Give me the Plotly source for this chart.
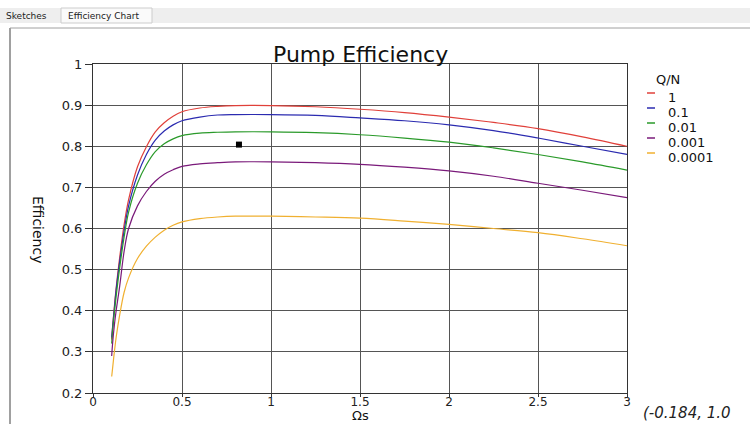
import plotly.graph_objects as go

# ---- data ----
omega_s = [0.105, 0.11, 0.12, 0.13, 0.15, 0.175, 0.2, 0.25, 0.3, 0.35, 0.4, 0.45, 0.5,
           0.6, 0.7, 0.8, 1.0, 1.25, 1.5, 1.75, 2.0, 2.25, 2.5, 2.75, 3.0]
series_names = ["1", "0.1", "0.01", "0.001", "0.0001"]
eff_1 = [0.33, 0.36, 0.41, 0.455, 0.53, 0.61, 0.67, 0.75, 0.799, 0.835, 0.857, 0.873, 0.884,
         0.893, 0.897, 0.899, 0.899, 0.896, 0.890, 0.882, 0.871, 0.858, 0.843, 0.823, 0.800]
eff_01 = [0.335, 0.36, 0.405, 0.45, 0.52, 0.595, 0.655, 0.73, 0.78, 0.815, 0.837, 0.852, 0.862,
          0.871, 0.876, 0.877, 0.877, 0.875, 0.869, 0.862, 0.852, 0.838, 0.820, 0.800, 0.780]
eff_001 = [0.32, 0.35, 0.395, 0.435, 0.505, 0.58, 0.64, 0.71, 0.755, 0.787, 0.806, 0.818, 0.826,
           0.832, 0.834, 0.835, 0.835, 0.833, 0.828, 0.820, 0.810, 0.796, 0.780, 0.762, 0.742]
eff_0001 = [0.29, 0.32, 0.365, 0.40, 0.46, 0.545, 0.60, 0.655, 0.69, 0.715, 0.732, 0.743, 0.751,
            0.757, 0.760, 0.762, 0.762, 0.760, 0.756, 0.749, 0.740, 0.727, 0.710, 0.693, 0.675]
eff_00001 = [0.24, 0.26, 0.30, 0.335, 0.39, 0.445, 0.48, 0.527, 0.557, 0.579, 0.596, 0.608, 0.616,
             0.624, 0.628, 0.630, 0.630, 0.628, 0.625, 0.618, 0.610, 0.600, 0.590, 0.575, 0.558]
series_values = [eff_1, eff_01, eff_001, eff_0001, eff_00001]
series_colors = ["#e0403a", "#2b2bb0", "#2a9a2a", "#7a1a7a", "#f0b030"]
marker_x = [0.82]
marker_y = [0.804]
cursor_text = "(-0.184, 1.0"

W, H = 750, 424
L, R, T, B = 93, 627, 64, 393  # plot area pixel box


def px(x):
    return (x - L) / (R - L)


def py(y):
    return (B - y) / (B - T)


fig = go.Figure()
for name, vals, col in zip(series_names, series_values, series_colors):
    fig.add_trace(go.Scatter(x=omega_s, y=vals, mode="lines", name=name,
                             line=dict(color=col, width=1.2, shape="spline", smoothing=1.0),
                             showlegend=False))
fig.add_trace(go.Scatter(x=marker_x, y=marker_y, mode="markers",
                         marker=dict(symbol="square", size=6, color="black"),
                         showlegend=False))

font = "DejaVu Sans, Arial, sans-serif"
axis_common = dict(showgrid=True, gridcolor="#555", gridwidth=1, showline=True,
                   linecolor="#333", linewidth=1, mirror=True, ticks="outside",
                   tickcolor="#333", zeroline=False)
fig.update_xaxes(range=[0, 3], dtick=0.5, tick0=0, ticklen=3, ticklabelstandoff=-5,
                 tickfont=dict(family=font, size=12, color="#222"), **axis_common)
fig.update_yaxes(range=[0.2, 1], dtick=0.1, tick0=0.2, ticklen=7,
                 tickfont=dict(family=font, size=13, color="#222"), **axis_common)

shapes = []
annotations = []
# window chrome: tab strip
shapes.append(dict(type="rect", xref="paper", yref="paper", x0=px(0), x1=px(W),
                   y0=py(23), y1=py(8), fillcolor="#eeeeee", line=dict(width=0), layer="below"))
shapes.append(dict(type="rect", xref="paper", yref="paper", x0=px(61), x1=px(152),
                   y0=py(23), y1=py(8), fillcolor="#fafafa", line=dict(color="#cccccc", width=1), layer="below"))
# panel border
shapes.append(dict(type="line", xref="paper", yref="paper", x0=px(10), x1=px(W),
                   y0=py(28), y1=py(28), line=dict(color="#a0a0a0", width=1)))
shapes.append(dict(type="line", xref="paper", yref="paper", x0=px(10), x1=px(10),
                   y0=py(28), y1=py(H), line=dict(color="#a0a0a0", width=2)))
annotations.append(dict(text="Sketches", xref="paper", yref="paper", x=px(4), y=py(16),
                        xanchor="left", yanchor="middle", showarrow=False,
                        font=dict(family=font, size=9, color="#222")))
annotations.append(dict(text="Efficiency Chart", xref="paper", yref="paper", x=px(66), y=py(16),
                        xanchor="left", yanchor="middle", showarrow=False,
                        font=dict(family=font, size=9, color="#222")))
# titles
annotations.append(dict(text="Pump Efficiency", xref="paper", yref="paper", x=px(360), y=py(55),
                        xanchor="center", yanchor="middle", showarrow=False,
                        font=dict(family=font, size=22, color="#111")))
annotations.append(dict(text="Ωs", xref="paper", yref="paper", x=px(360), y=py(424),
                        xanchor="center", yanchor="bottom", showarrow=False, borderpad=0,
                        font=dict(family=font, size=13, color="#111")))
annotations.append(dict(text="Efficiency", xref="paper", yref="paper", x=px(38), y=py(229),
                        xanchor="center", yanchor="middle", showarrow=False, textangle=90,
                        font=dict(family=font, size=14, color="#111")))
annotations.append(dict(text="<i>" + cursor_text + "</i>", xref="paper", yref="paper", x=px(641), y=py(413),
                        xanchor="left", yanchor="middle", showarrow=False,
                        font=dict(family=font, size=15, color="#222")))
# legend
annotations.append(dict(text="Q/N", xref="paper", yref="paper", x=px(654), y=py(79),
                        xanchor="left", yanchor="middle", showarrow=False,
                        font=dict(family=font, size=13, color="#111")))
for i, (name, col) in enumerate(zip(series_names, series_colors)):
    yy = 97 + i * 15
    shapes.append(dict(type="line", xref="paper", yref="paper", x0=px(647), x1=px(655),
                       y0=py(yy - 4), y1=py(yy - 4), line=dict(color=col, width=1.5)))
    annotations.append(dict(text=name, xref="paper", yref="paper", x=px(666), y=py(yy),
                            xanchor="left", yanchor="middle", showarrow=False,
                            font=dict(family=font, size=13, color="#111")))

fig.update_layout(width=W, height=H, margin=dict(l=L, r=W - R, t=T, b=H - B),
                  paper_bgcolor="white", plot_bgcolor="white",
                  shapes=shapes, annotations=annotations, showlegend=False)

fig.write_html("out.html")
